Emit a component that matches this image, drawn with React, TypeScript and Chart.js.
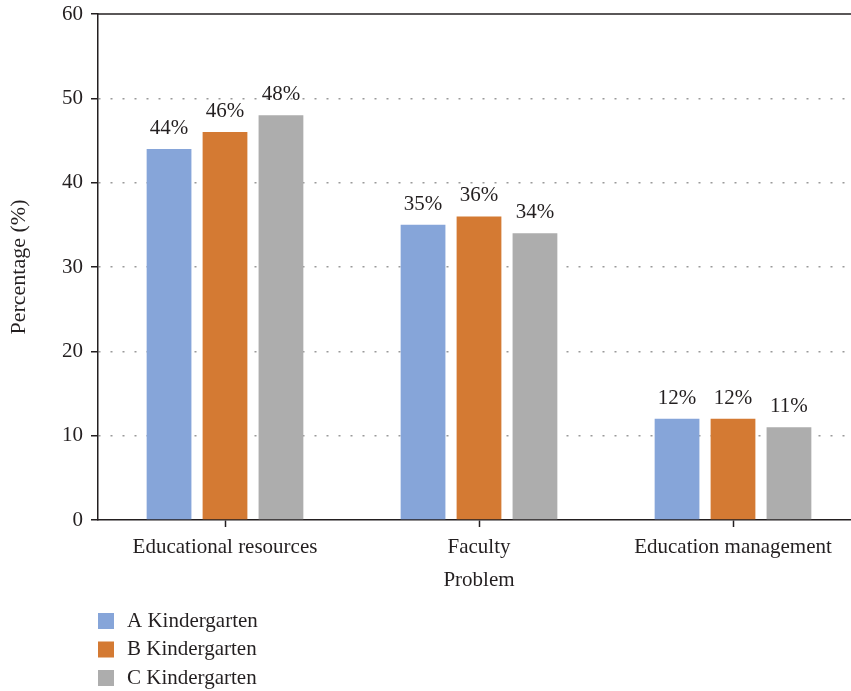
import React, { useEffect, useRef } from "react";
import { Chart, registerables } from "chart.js";

Chart.register(...registerables);

const categories = ["Educational resources", "Faculty", "Education management"];
const seriesNames = ["A Kindergarten", "B Kindergarten", "C Kindergarten"];
const seriesA = [44, 35, 12];
const seriesB = [46, 36, 12];
const seriesC = [48, 34, 11];
const colors = ["#86A5D9", "#D47A33", "#ADADAD"];
const yTicks = [0, 10, 20, 30, 40, 50, 60];

const FONT = "'Liberation Serif', 'Times New Roman', serif";
const TEXT = "#231f20";

const topLine = {
  id: "topLine",
  afterDraw(chart: any) {
    const { ctx, chartArea } = chart;
    ctx.save();
    ctx.strokeStyle = TEXT;
    ctx.lineWidth = 1.5;
    ctx.beginPath();
    ctx.moveTo(chartArea.left, chartArea.top);
    ctx.lineTo(chartArea.right, chartArea.top);
    ctx.stroke();
    ctx.restore();
  },
};

const valueLabels = {
  id: "valueLabels",
  afterDatasetsDraw(chart: any) {
    const { ctx } = chart;
    ctx.save();
    ctx.font = `21px ${FONT}`;
    ctx.fillStyle = TEXT;
    ctx.textAlign = "center";
    ctx.textBaseline = "alphabetic";
    chart.data.datasets.forEach((ds: any, i: number) => {
      const meta = chart.getDatasetMeta(i);
      meta.data.forEach((bar: any, j: number) => {
        ctx.fillText(`${ds.data[j]}%`, bar.x, bar.y - 15);
      });
    });
    ctx.restore();
  },
};

const customLegend = {
  id: "customLegend",
  afterDraw(chart: any) {
    const { ctx } = chart;
    ctx.save();
    ctx.font = `21px ${FONT}`;
    ctx.textAlign = "left";
    ctx.textBaseline = "alphabetic";
    chart.data.datasets.forEach((ds: any, i: number) => {
      const y = 613 + i * 28.5;
      ctx.fillStyle = ds.backgroundColor;
      ctx.fillRect(98, y, 16, 16);
      ctx.fillStyle = TEXT;
      ctx.fillText(ds.label, 127, y + 13.5);
    });
    ctx.restore();
  },
};

export default function App() {
  const ref = useRef<HTMLCanvasElement>(null);
  useEffect(() => {
    if (!ref.current) return;
    const chart = new Chart(ref.current, {
      type: "bar",
      data: {
        labels: categories,
        datasets: [seriesA, seriesB, seriesC].map((d, i) => ({
          label: seriesNames[i],
          data: d,
          backgroundColor: colors[i],
          categoryPercentage: 0.661,
          barPercentage: 0.8,
        })),
      },
      options: {
        animation: false,
        responsive: false,
        maintainAspectRatio: false,
        layout: { padding: { top: 14, right: 0, bottom: 91, left: 0 } },
        plugins: {
          legend: { display: false },
          tooltip: { enabled: false },
        },
        scales: {
          x: {
            afterFit: (s: any) => {
              s.height = 80;
              s.paddingLeft = 0;
              s.paddingRight = 0;
            },
            grid: {
              display: true,
              drawOnChartArea: false,
              drawTicks: true,
              offset: false,
              tickLength: 7,
              tickColor: TEXT,
              tickWidth: 1.5,
            },
            border: { display: true, color: TEXT, width: 1.5 },
            ticks: {
              color: TEXT,
              font: { family: FONT, size: 21 },
              padding: 8,
              maxRotation: 0,
            },
            title: {
              display: true,
              text: "Problem",
              color: TEXT,
              font: { family: FONT, size: 21 },
              padding: { top: 0, bottom: 7 },
            },
          },
          y: {
            min: 0,
            max: 60,
            afterFit: (s: any) => {
              s.width = 98;
              s.paddingTop = 0;
              s.paddingBottom = 0;
            },
            afterBuildTicks: (s: any) => {
              s.ticks = yTicks.map((v) => ({ value: v }));
            },
            grid: {
              display: true,
              color: (c: any) =>
                c.tick && (c.tick.value === 0 || c.tick.value === 60)
                  ? "rgba(0,0,0,0)"
                  : "#9a9a9a",
              lineWidth: 1.5,
              drawTicks: true,
              tickLength: 7,
              tickColor: TEXT,
              tickWidth: 1.5,
            },
            border: { display: true, color: TEXT, width: 1.5, dash: [2, 10] },
            ticks: {
              color: TEXT,
              font: { family: FONT, size: 21 },
              padding: 8,
            },
            title: {
              display: true,
              text: "Percentage (%)",
              color: TEXT,
              font: { family: FONT, size: 22 },
              padding: { top: 6, bottom: 0 },
            },
          },
        },
      },
      plugins: [topLine, valueLabels, customLegend],
    });
    return () => chart.destroy();
  }, []);
  return (
    <div
      style={{
        position: "fixed",
        left: 0,
        top: 0,
        width: 851,
        height: 691,
        overflow: "hidden",
        background: "#fff",
      }}
    >
      <canvas ref={ref} width={860} height={691} style={{ display: "block" }} />
    </div>
  );
}
